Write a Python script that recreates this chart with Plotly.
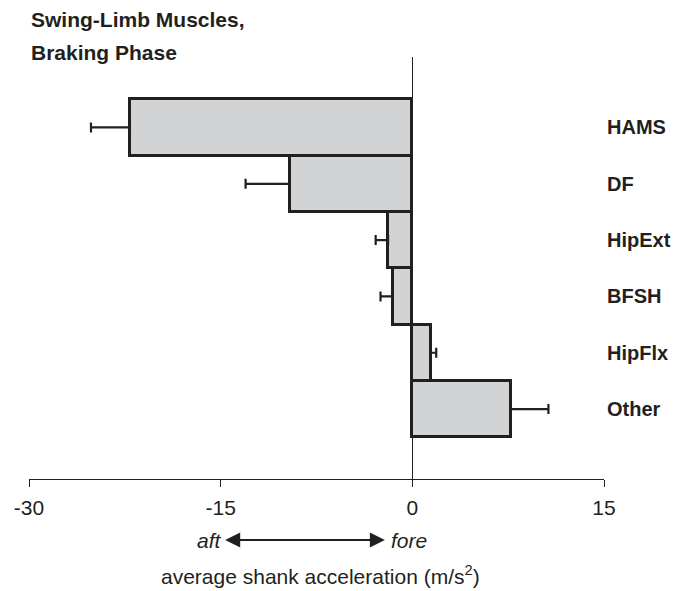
import plotly.graph_objects as go

# ---- data ----
muscles = ["HAMS", "DF", "HipExt", "BFSH", "HipFlx", "Other"]
accel = [-22.1, -9.6, -1.9, -1.55, 1.45, 7.7]
err = [3.05, 3.45, 0.97, 0.94, 0.42, 2.95]
x_ticks = [-30, -15, 0, 15]

err_plus = [e if v > 0 else 0 for v, e in zip(accel, err)]
err_minus = [e if v < 0 else 0 for v, e in zip(accel, err)]

FONT = "Liberation Sans, Arial, Helvetica, sans-serif"
INK = "#231f20"

fig = go.Figure()
fig.add_trace(go.Bar(
    x=accel, y=muscles, orientation="h",
    marker=dict(color="#d1d3d4", line=dict(color=INK, width=3)),
    error_x=dict(type="data", symmetric=False, array=err_plus,
                 arrayminus=err_minus, color=INK, thickness=2.2, width=5),
    showlegend=False, hoverinfo="x+y",
))

PLOT_L, PLOT_R = 29, 604
PLOT_TOP, PLOT_BOT = 57, 479
H = PLOT_BOT - PLOT_TOP
W = PLOT_R - PLOT_L

def py(pix):
    return (PLOT_BOT - pix) / H

def px(pix):
    return (pix - PLOT_L) / W

fig.update_layout(
    width=674, height=591,
    margin=dict(l=PLOT_L, r=674 - PLOT_R, t=PLOT_TOP, b=591 - PLOT_BOT, pad=0),
    paper_bgcolor="white", plot_bgcolor="white",
    bargap=0,
    font=dict(family=FONT, size=21, color=INK),
    xaxis=dict(
        range=[-30, 15], tickvals=x_ticks, ticktext=[str(t) for t in x_ticks],
        showgrid=False, zeroline=True, zerolinecolor=INK, zerolinewidth=1.2,
        showline=True, linecolor=INK, linewidth=1.2,
        ticks="outside", ticklen=7, tickwidth=1.2, tickcolor=INK,
        tickfont=dict(size=21, color=INK), ticklabelstandoff=3,
    ),
    yaxis=dict(
        type="category", categoryorder="array", categoryarray=muscles,
        range=[6.241, -1.251],
        showgrid=False, zeroline=False, showline=False, ticks="",
        showticklabels=False,
    ),
)

# category labels on the right, one per muscle
for m in muscles:
    fig.add_annotation(text=f"<b>{m}</b>", xref="paper", yref="y",
                       x=px(604.5), y=m, xanchor="left", yanchor="middle",
                       showarrow=False, font=dict(size=20, color=INK))

# title (two lines)
fig.add_annotation(text="<b>Swing-Limb Muscles,</b>", xref="paper", yref="paper",
                   x=px(29), y=py(20), xanchor="left", yanchor="middle",
                   showarrow=False, font=dict(size=21, color=INK))
fig.add_annotation(text="<b>Braking Phase</b>", xref="paper", yref="paper",
                   x=px(29), y=py(52), xanchor="left", yanchor="middle",
                   showarrow=False, font=dict(size=21, color=INK))

# aft <-> fore arrow
fig.add_annotation(text="<i>aft</i>", xref="x", yref="paper",
                   x=-2.15, y=py(540), axref="x", ax=-15.9, ayref="pixel", ay=0,
                   showarrow=True, arrowhead=2, startarrowhead=2, arrowside="end+start",
                   arrowsize=1.5, startarrowsize=1.5, arrowwidth=2, arrowcolor=INK,
                   font=dict(size=21, color=INK), standoff=0, startstandoff=2)
fig.add_annotation(text="<i>fore</i>", xref="x", yref="paper",
                   x=(389 - 412.3) / 12.78, y=py(540), xanchor="left", yanchor="middle",
                   showarrow=False, font=dict(size=21, color=INK))

# axis title
fig.add_annotation(text="average shank acceleration (m/s<sup>2</sup>)",
                   xref="paper", yref="paper", x=px(320.5), y=py(590),
                   xanchor="center", yanchor="bottom", showarrow=False,
                   font=dict(size=21, color=INK))

fig.write_html(
    "out.html",
    config={"displayModeBar": False},
    post_script="document.body.style.margin='0';document.body.style.overflow='hidden';",
)
